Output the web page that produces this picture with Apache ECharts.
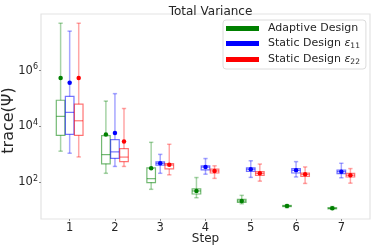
<!DOCTYPE html>
<html>
<head>
<meta charset="utf-8">
<script src="https://cdn.jsdelivr.net/npm/echarts@6/dist/echarts.min.js"></script>
<style>html,body{margin:0;padding:0;background:#fff}#c{width:374px;height:249px}</style>
</head>
<body>
<div id="c"></div>
<script>
// ---- data ----
const steps = [1, 2, 3, 4, 5, 6, 7];
const seriesNames = ['Adaptive Design', 'Static Design ε11', 'Static Design ε22'];
const yTickValues = [1e2, 1e4, 1e6];
// each row: [min, Q1, median, Q3, max]
const adaptiveBox = [
  [1.3e3, 4.8e3, 2.3e4, 8.7e4, 5.0e7],
  [210, 460, 980, 4.7e3, 8.1e4],
  [56, 98, 135, 330, 2.7e3],
  [28, 38, 49, 58, 148],
  [17, 19, 21.4, 24.5, 34],
  [12.3, 13.5, 14.1, 14.8, 15.8],
  [10.7, 11.2, 11.7, 12.3, 13.5]
];
const adaptiveMean = [5.5e5, 5.2e3, 316, 49, 21.4, 14.1, 11.7];
const static11Box = [
  [1.1e3, 5.2e3, 3.2e4, 1.2e5, 2.6e7],
  [370, 720, 1.23e3, 3.4e3, 1.5e5],
  [210, 410, 480, 540, 1.0e3],
  [195, 280, 350, 390, 710],
  [150, 245, 295, 330, 590],
  [155, 215, 270, 310, 550],
  [145, 205, 240, 275, 480]
];
const static11Mean = [3.7e5, 5.8e3, 480, 350, 295, 270, 240];
const static22Box = [
  [810, 4.8e3, 1.6e4, 6.3e4, 5.0e7],
  [370, 550, 800, 1.6e3, 4.4e4],
  [185, 300, 415, 470, 2.3e3],
  [138, 215, 255, 295, 390],
  [110, 178, 210, 240, 450],
  [91, 162, 195, 215, 355],
  [93, 155, 180, 210, 310]
];
const static22Mean = [5.5e5, 2.9e3, 425, 255, 210, 195, 180];

// ---- styling / layout ----
const colors = ['#008000', '#0000ff', '#ff0000'];
const rgba = ['0,128,0', '0,0,255', '255,0,0'];
const offsets = [-0.2, 0, 0.2];
const boxes = [adaptiveBox, static11Box, static22Box];
const means = [adaptiveMean, static11Mean, static22Mean];
const BOX_W = 0.19;

function makeRender(k) {
  return function (params, api) {
    const x = api.value(0);
    const v = [1, 2, 3, 4, 5].map(i => api.value(i));
    const c = v.map(val => api.coord([x, val]));
    const cx = c[0][0];
    const half = (api.coord([x + BOX_W / 2, v[0]])[0] - cx);
    const cap = half / 2;
    const boxStroke = 'rgba(' + rgba[k] + ',0.55)';
    const whStroke = 'rgba(' + rgba[k] + ',0.35)';
    const wStyle = { stroke: whStroke, lineWidth: 1.5, fill: null };
    const bStyle = { stroke: boxStroke, lineWidth: 1.2, fill: null };
    return {
      type: 'group',
      children: [
        { type: 'line', shape: { x1: cx, y1: c[4][1], x2: cx, y2: c[3][1] }, style: wStyle },
        { type: 'line', shape: { x1: cx, y1: c[1][1], x2: cx, y2: c[0][1] }, style: wStyle },
        { type: 'line', shape: { x1: cx - cap, y1: c[4][1], x2: cx + cap, y2: c[4][1] }, style: wStyle },
        { type: 'line', shape: { x1: cx - cap, y1: c[0][1], x2: cx + cap, y2: c[0][1] }, style: wStyle },
        { type: 'rect', shape: { x: cx - half, y: c[3][1], width: 2 * half, height: c[1][1] - c[3][1] }, style: bStyle },
        { type: 'line', shape: { x1: cx - half, y1: c[2][1], x2: cx + half, y2: c[2][1] }, style: bStyle }
      ]
    };
  };
}

const series = [];
for (let k = 0; k < 3; k++) {
  series.push({
    name: seriesNames[k],
    type: 'custom',
    xAxisIndex: 0, yAxisIndex: 0,
    itemStyle: { color: colors[k] },
    renderItem: makeRender(k),
    encode: { x: 0, y: [1, 2, 3, 4, 5] },
    data: steps.map((s, i) => [s + offsets[k]].concat(boxes[k][i])),
    z: 2
  });
}
for (let k = 0; k < 3; k++) {
  series.push({
    name: seriesNames[k],
    type: 'scatter',
    symbol: 'circle',
    symbolSize: 4.5,
    itemStyle: { color: colors[k], opacity: 1 },
    data: steps.map((s, i) => [s + offsets[k], means[k][i]]),
    z: 3
  });
}

const chart = echarts.init(document.getElementById('c'), null, { renderer: 'canvas' });
const font = 'DejaVu Sans';
chart.setOption({
  animation: false,
  textStyle: { fontFamily: font },
  title: {
    text: 'Total Variance', left: 205.5, top: 1, textAlign: 'center',
    textStyle: { fontFamily: font, fontSize: 12, fontWeight: 'normal', color: '#262626' }
  },
  grid: {
    left: 41, right: 4, top: 14, bottom: 30, containLabel: false, outerBoundsMode: 'none',
    show: true, borderColor: '#e3e3e3', borderWidth: 1.2, backgroundColor: '#fff'
  },
  legend: {
    data: seriesNames,
    orient: 'vertical', left: 223, top: 20,
    padding: [3, 6, 3, 3],
    itemWidth: 33, itemHeight: 5, itemGap: 3,
    icon: 'rect',
    backgroundColor: '#fff', borderColor: '#dcdcdc', borderWidth: 1, borderRadius: 3,
    formatter: function (name) {
      if (name === 'Adaptive Design') return '{t|Adaptive Design}';
      const sub = name.slice(-2);
      return '{t|Static Design }{e|ε}{s|' + sub + '}';
    },
    textStyle: {
      fontFamily: font, fontSize: 11, color: '#262626', padding: [0, 0, 0, 4],
      rich: {
        t: { fontSize: 11, fontFamily: font, color: '#262626', lineHeight: 13 },
        e: { fontSize: 11, fontFamily: font, fontStyle: 'italic', color: '#262626', lineHeight: 13 },
        s: { fontSize: 7.5, fontFamily: font, color: '#262626', padding: [5, 0, 0, 0], lineHeight: 13 }
      }
    }
  },
  xAxis: {
    type: 'value', min: 0.367, max: 7.633,
    name: 'Step', nameLocation: 'middle', nameGap: 14, nameMoveOverlap: false,
    nameTextStyle: { fontFamily: font, fontSize: 12, color: '#262626' },
    splitLine: { show: false },
    axisLine: { show: false },
    axisTick: { show: true, length: 2, lineStyle: { color: '#888' }, customValues: steps },
    axisLabel: { fontFamily: font, fontSize: 11.5, color: '#262626', margin: 3, customValues: steps, formatter: v => String(Math.round(v)) }
  },
  yAxis: {
    type: 'log', logBase: 10, min: 4.84, max: 1.07e8,
    name: 'trace(Ψ)', nameLocation: 'middle', nameGap: 24, nameRotate: 90, nameMoveOverlap: false,
    nameTextStyle: { fontFamily: font, fontSize: 16, color: '#262626', padding: [0, 8, 0, 0] },
    splitLine: { show: false },
    minorTick: { show: false },
    axisLine: { show: false },
    axisTick: { show: true, length: 2, lineStyle: { color: '#888' }, customValues: yTickValues },
    axisLabel: {
      fontFamily: font, fontSize: 11.5, color: '#262626', margin: 3,
      customValues: yTickValues,
      formatter: v => '{b|10}{p|' + Math.round(Math.log10(v)) + '}',
      rich: {
        b: { fontSize: 11.5, fontFamily: font, color: '#262626' },
        p: { fontSize: 8, fontFamily: font, color: '#262626', padding: [0, 0, 7, 0] }
      }
    }
  },
  series: series
});
</script>
</body>
</html>
